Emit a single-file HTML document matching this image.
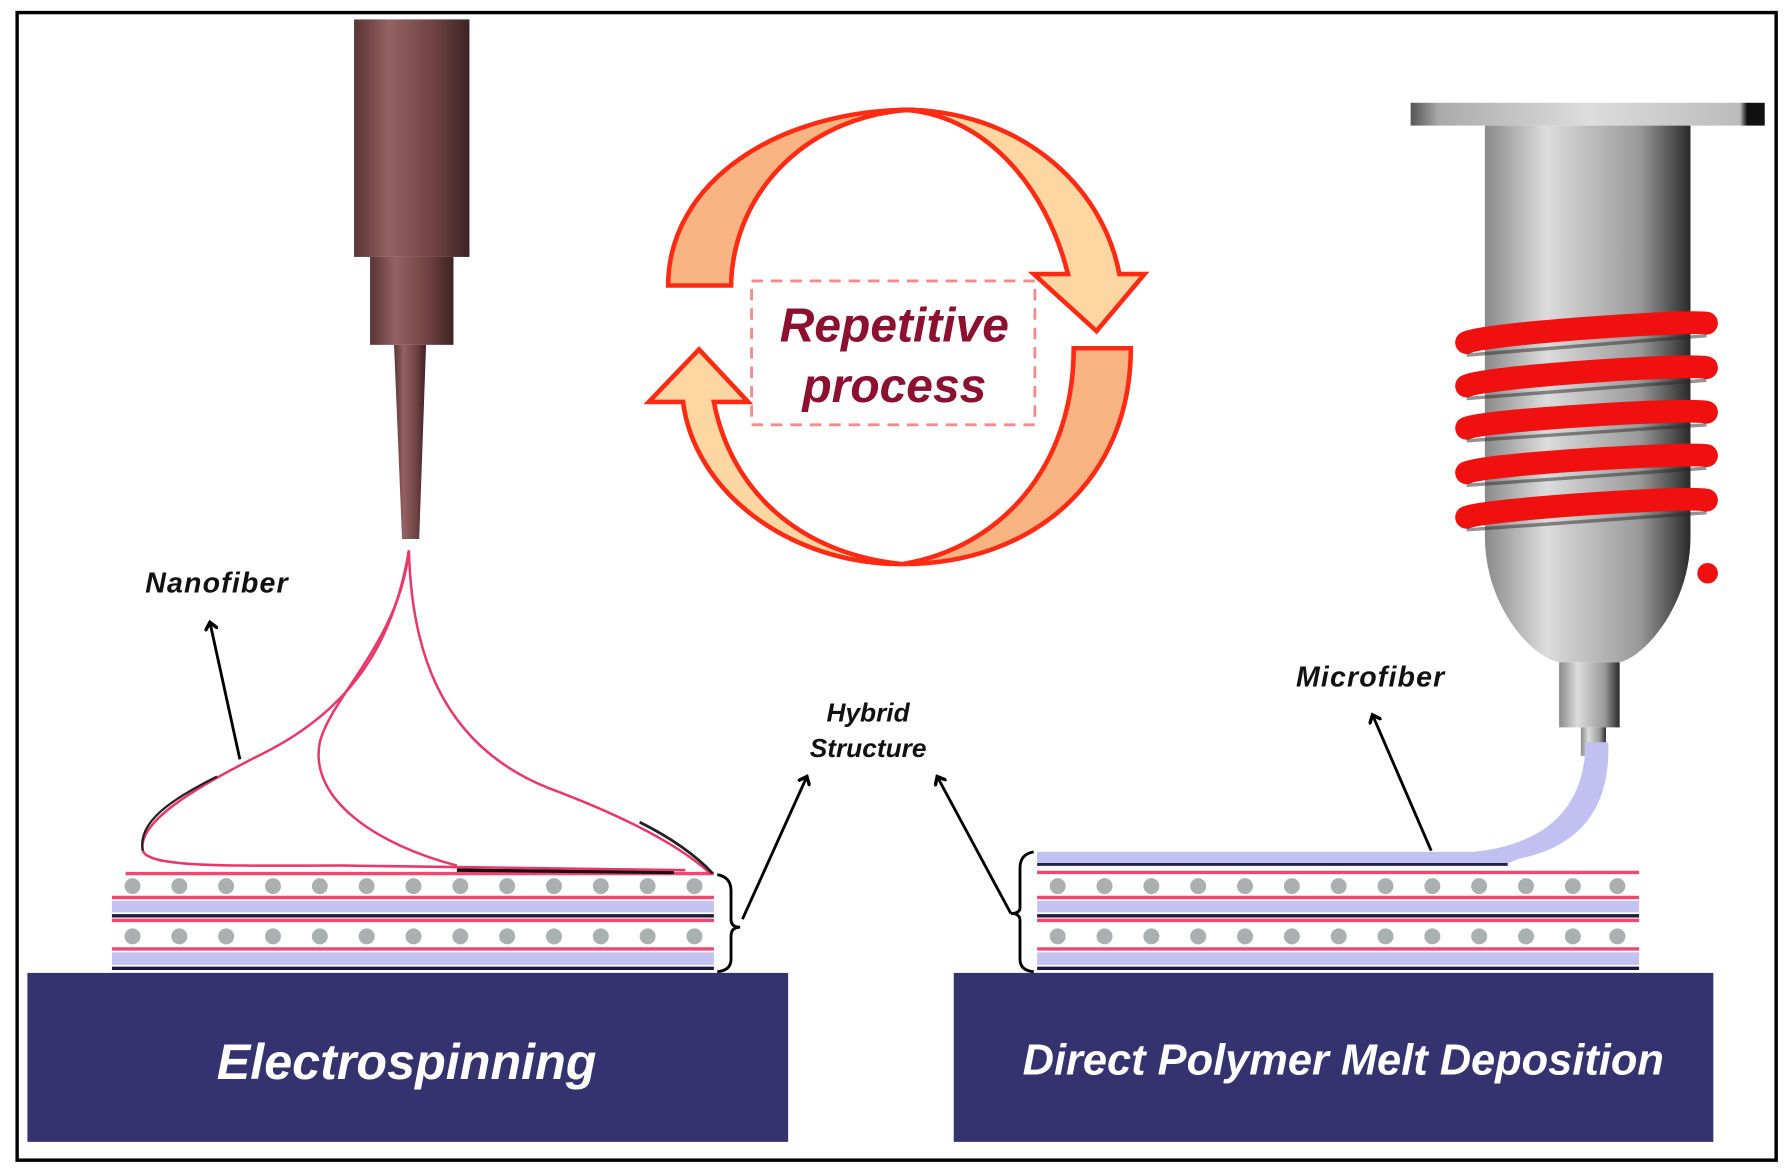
<!DOCTYPE html>
<html><head><meta charset="utf-8"><style>
html,body{margin:0;padding:0;background:#fff;}
svg{display:block;}
text{font-family:"Liberation Sans",sans-serif;font-weight:bold;font-style:italic;}
</style></head><body>
<svg width="1791" height="1175" viewBox="0 0 1568 1029" preserveAspectRatio="none" xmlns="http://www.w3.org/2000/svg">
<defs>
<linearGradient id="br" x1="0" x2="1" y1="0" y2="0">
<stop offset="0" stop-color="#5a3434"/><stop offset="0.3" stop-color="#946262"/><stop offset="0.7" stop-color="#6e4242"/><stop offset="1" stop-color="#3e2222"/></linearGradient>
<linearGradient id="gr" x1="0" x2="1" y1="0" y2="0">
<stop offset="0" stop-color="#8a8a8a"/><stop offset="0.3" stop-color="#dcdcdc"/><stop offset="0.75" stop-color="#9a9a9a"/><stop offset="1" stop-color="#2a2a2a"/></linearGradient>
<linearGradient id="pl" x1="0" x2="1" y1="0" y2="0">
<stop offset="0" stop-color="#555"/><stop offset="0.08" stop-color="#aaa"/><stop offset="0.5" stop-color="#ddd"/><stop offset="0.93" stop-color="#bbb"/><stop offset="0.95" stop-color="#111"/><stop offset="1" stop-color="#111"/></linearGradient>
<marker id="ah" markerWidth="12" markerHeight="12" refX="6" refY="6" orient="auto" markerUnits="userSpaceOnUse"><path d="M0,0 L7,6 L0,12" fill="none" stroke="#000" stroke-width="3"/></marker>
</defs>
<rect x="15" y="11" width="1540" height="1005" fill="none" stroke="#000" stroke-width="3"/>

<!-- bases -->
<rect x="24" y="852" width="666" height="148" fill="#35336f"/>
<text x="356" y="945" font-size="44" fill="#fff" text-anchor="middle">Electrospinning</text>
<rect x="835" y="852" width="665" height="148" fill="#35336f"/>
<text x="1176" y="941" font-size="38" fill="#fff" text-anchor="middle">Direct Polymer Melt Deposition</text>

<!-- left layers -->
<g>
<line x1="110" y1="765" x2="625" y2="765" stroke="#f04870" stroke-width="3"/>
<line x1="98" y1="786" x2="625" y2="786" stroke="#f04870" stroke-width="3"/>
<rect x="98" y="789" width="527" height="10" fill="#c4c2f0"/>
<line x1="98" y1="802" x2="625" y2="802" stroke="#1a1a3a" stroke-width="3"/>
<line x1="98" y1="806" x2="625" y2="806" stroke="#f04870" stroke-width="3"/>
<line x1="98" y1="831" x2="625" y2="831" stroke="#f04870" stroke-width="3"/>
<rect x="98" y="834" width="527" height="11" fill="#c4c2f0"/>
<line x1="98" y1="848" x2="625" y2="848" stroke="#1a1a3a" stroke-width="3"/>
</g>
<g fill="#aab0b0">
<circle cx="116" cy="776" r="7"/><circle cx="157" cy="776" r="7"/><circle cx="198" cy="776" r="7"/><circle cx="239" cy="776" r="7"/><circle cx="280" cy="776" r="7"/><circle cx="321" cy="776" r="7"/><circle cx="362" cy="776" r="7"/><circle cx="403" cy="776" r="7"/><circle cx="444" cy="776" r="7"/><circle cx="485" cy="776" r="7"/><circle cx="526" cy="776" r="7"/><circle cx="567" cy="776" r="7"/><circle cx="608" cy="776" r="7"/>
<circle cx="116" cy="820" r="7"/><circle cx="157" cy="820" r="7"/><circle cx="198" cy="820" r="7"/><circle cx="239" cy="820" r="7"/><circle cx="280" cy="820" r="7"/><circle cx="321" cy="820" r="7"/><circle cx="362" cy="820" r="7"/><circle cx="403" cy="820" r="7"/><circle cx="444" cy="820" r="7"/><circle cx="485" cy="820" r="7"/><circle cx="526" cy="820" r="7"/><circle cx="567" cy="820" r="7"/><circle cx="608" cy="820" r="7"/>
</g>
<line x1="400" y1="762" x2="590" y2="764" stroke="#111" stroke-width="3"/>

<!-- right layers -->
<g>
<line x1="908" y1="764" x2="1435" y2="764" stroke="#f04870" stroke-width="3"/>
<line x1="908" y1="786" x2="1435" y2="786" stroke="#f04870" stroke-width="3"/>
<rect x="908" y="789" width="527" height="10" fill="#c4c2f0"/>
<line x1="908" y1="802" x2="1435" y2="802" stroke="#1a1a3a" stroke-width="3"/>
<line x1="908" y1="806" x2="1435" y2="806" stroke="#f04870" stroke-width="3"/>
<line x1="908" y1="831" x2="1435" y2="831" stroke="#f04870" stroke-width="3"/>
<rect x="908" y="834" width="527" height="11" fill="#c4c2f0"/>
<line x1="908" y1="848" x2="1435" y2="848" stroke="#1a1a3a" stroke-width="3"/>
</g>
<g fill="#aab0b0">
<circle cx="926" cy="776" r="7"/><circle cx="967" cy="776" r="7"/><circle cx="1008" cy="776" r="7"/><circle cx="1049" cy="776" r="7"/><circle cx="1090" cy="776" r="7"/><circle cx="1131" cy="776" r="7"/><circle cx="1172" cy="776" r="7"/><circle cx="1213" cy="776" r="7"/><circle cx="1254" cy="776" r="7"/><circle cx="1295" cy="776" r="7"/><circle cx="1336" cy="776" r="7"/><circle cx="1377" cy="776" r="7"/><circle cx="1416" cy="776" r="7"/>
<circle cx="926" cy="820" r="7"/><circle cx="967" cy="820" r="7"/><circle cx="1008" cy="820" r="7"/><circle cx="1049" cy="820" r="7"/><circle cx="1090" cy="820" r="7"/><circle cx="1131" cy="820" r="7"/><circle cx="1172" cy="820" r="7"/><circle cx="1213" cy="820" r="7"/><circle cx="1254" cy="820" r="7"/><circle cx="1295" cy="820" r="7"/><circle cx="1336" cy="820" r="7"/><circle cx="1377" cy="820" r="7"/><circle cx="1416" cy="820" r="7"/>
</g>

<!-- braces -->
<path d="M628,766 Q640,768 640,780 L640,805 Q640,812 648,812 Q640,812 640,820 L640,840 Q640,850 628,851" fill="none" stroke="#000" stroke-width="2.5"/>
<path d="M905,746 Q893,748 893,760 L893,795 Q893,800 885,800 Q893,800 893,806 L893,840 Q893,850 905,851" fill="none" stroke="#000" stroke-width="2.5"/>

<!-- left needle -->
<rect x="310" y="17" width="101" height="208" fill="url(#br)"/>
<rect x="324" y="225" width="73" height="77" fill="url(#br)"/>
<path d="M345,302 L373,302 L367,472 L352,472 Z" fill="url(#br)"/>

<!-- nanofibers -->
<g fill="none" stroke="#e8386a" stroke-width="2.2">
<path d="M358,482 C345,560 310,620 230,660 C170,690 120,720 125,745 C130,760 200,758 300,758 L600,762"/>
<path d="M358,482 C350,560 290,610 280,650 C270,700 330,740 400,758"/>
<path d="M358,482 C360,560 380,650 480,690 C560,720 600,745 622,765"/>
</g>
<path d="M125,745 C120,720 150,700 190,680" fill="none" stroke="#222" stroke-width="2"/>
<path d="M560,720 C590,735 610,750 624,765" fill="none" stroke="#222" stroke-width="2.5"/>

<!-- labels + arrows -->
<text x="190" y="519" font-size="25" fill="#111" text-anchor="middle" letter-spacing="1">Nanofiber</text>
<line x1="210" y1="665" x2="184" y2="546" stroke="#000" stroke-width="2.5" marker-end="url(#ah)"/>
<text x="760" y="632" font-size="23" fill="#111" text-anchor="middle">Hybrid</text>
<text x="760" y="663" font-size="23" fill="#111" text-anchor="middle">Structure</text>
<line x1="650" y1="805" x2="706" y2="681" stroke="#000" stroke-width="2.5" marker-end="url(#ah)"/>
<line x1="885" y1="800" x2="821" y2="681" stroke="#000" stroke-width="2.5" marker-end="url(#ah)"/>
<text x="1200" y="601" font-size="25" fill="#111" text-anchor="middle" letter-spacing="1">Microfiber</text>
<line x1="1253" y1="745" x2="1202" y2="627" stroke="#000" stroke-width="2.5" marker-end="url(#ah)"/>

<!-- cycle -->
<g stroke="#ff2a14" stroke-width="4" stroke-linejoin="miter">
<path d="M585,250 C585,160 680,96 800,96 C710,100 642,165 640,250 Z" fill="#f7b482"/>
<path d="M790,96 C890,96 965,160 980,240 L1002,240 L960,290 L905,240 L935,240 C915,160 860,100 790,96 Z" fill="#fdd6a2"/>
<path d="M940,305 L990,305 C990,420 905,494 790,494 C875,480 940,410 940,305 Z" fill="#f7b482"/>
<path d="M790,494 C690,494 608,430 598,352 L568,352 L612,306 L655,352 L625,352 C640,430 700,485 790,494 Z" fill="#fdd6a2"/>
</g>
<rect x="658" y="246" width="248" height="126" fill="none" stroke="#f58a8a" stroke-width="2.5" stroke-dasharray="10,7"/>
<text x="783" y="299" font-size="42" fill="#8c1030" text-anchor="middle">Repetitive</text>
<text x="783" y="352" font-size="42" fill="#8c1030" text-anchor="middle">process</text>

<!-- syringe -->
<rect x="1235" y="90" width="310" height="20" fill="url(#pl)"/>
<path d="M1300,110 L1480,110 L1480,470 C1480,530 1440,575 1418,580 L1365,580 C1340,575 1300,530 1300,470 Z" fill="url(#gr)"/>
<rect x="1365" y="580" width="53" height="57" fill="url(#gr)"/>
<rect x="1384" y="637" width="22" height="25" fill="url(#gr)"/>
<!-- microfiber -->
<path d="M1388,650 L1408,650 C1410,700 1390,740 1330,752 L1320,756 L908,756 L908,746 L1290,746 C1350,740 1388,710 1388,650 Z" fill="#c2c0f0"/>
<line x1="908" y1="757" x2="1320" y2="757" stroke="#23234a" stroke-width="2.5"/>
<!-- coils -->
<g stroke="#f01010" stroke-width="20" stroke-linecap="round" fill="none">
<path d="M1284,300 C1300,292 1480,280 1494,283"/>
<path d="M1284,338 C1300,330 1480,318 1494,322"/>
<path d="M1284,375 C1300,368 1480,357 1494,361"/>
<path d="M1284,414 C1300,406 1480,396 1494,399"/>
<path d="M1284,453 C1300,446 1480,434 1494,438"/>
</g>
<g stroke="#2a2a2a" stroke-width="3" fill="none" opacity="0.5">
<path d="M1284,311 L1494,294"/><path d="M1284,349 L1494,333"/><path d="M1284,386 L1494,372"/><path d="M1284,425 L1494,410"/><path d="M1284,464 L1494,449"/>
</g>
<circle cx="1495" cy="502" r="9" fill="#f01010"/>
</svg>
</body></html>
